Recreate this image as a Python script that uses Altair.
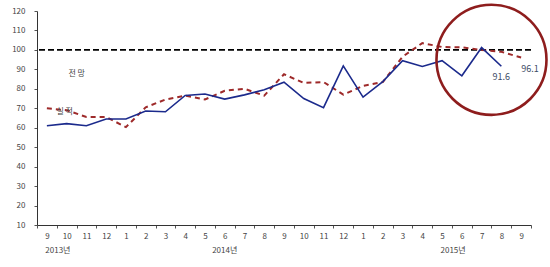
import altair as alt
import pandas as pd

# ---- data ----
months = ["9", "10", "11", "12", "1", "2", "3", "4", "5", "6", "7", "8",
          "9", "10", "11", "12", "1", "2", "3", "4", "5", "6", "7", "8", "9"]
years = [2013] * 4 + [2014] * 12 + [2015] * 9
cats = [f"{y}-{int(m):02d}" for y, m in zip(years, months)]

actual = [61.0, 62.1, 61.0, 64.5, 64.5, 68.6, 68.2, 76.6, 77.3, 74.7, 76.9, 79.5,
          83.4, 75.0, 70.3, 91.8, 75.7, 83.7, 94.5, 91.5, 94.5, 86.7, 101.2, 91.6, None]
forecast = [70.0, 69.0, 65.5, 65.5, 60.3, 70.5, 74.5, 76.5, 74.5, 79.0, 80.0, 76.5,
            87.5, 83.0, 83.5, 77.0, 81.5, 83.5, 96.5, 103.5, 101.5, 101.3, 100.0, 99.0, 96.1]

ref_level = [100]
year_ticks = ["2013-09", "2014-06", "2015-05"]
year_names = ["2013년", "2014년", "2015년"]

ann_cats = ["2015-08", "2015-09"]
ann_vals = [91.6, 96.1]

series_label_cats = ["2013-10", "2013-10"]
series_label_vals = [87.7, 68.2]
series_label_text = ["전 망", "실 적"]

circle_cat = ["2015-07"]
circle_val = [94.9]

# ---- styling ----
FONT = "Noto Sans CJK KR"
TXT = "#444444"
NAVY = "#1b2a8c"
RED = "#9e2a2a"

df = pd.DataFrame({"cat": cats, "actual": actual, "forecast": forecast})

xscale = alt.Scale(type="band", domain=cats, paddingInner=0, paddingOuter=0)
yscale = alt.Scale(domain=[10, 120], nice=False, zero=False)

month_axis = alt.Axis(
    title=None,
    labelExpr="isValid(datum.value) ? '' + toNumber(split(datum.value, '-')[1]) : ''",
    tickBand="extent", tickSize=3, labelPadding=4, labelAngle=0,
    labelOverlap=False, labelFont=FONT, labelFontSize=8, labelColor=TXT,
    domainColor="#333333", tickColor="#555555", grid=False, orient="bottom",
)

year_expr = "".join(
    f"datum.value == '{c}' ? '{n}' : " for c, n in zip(year_ticks, year_names)
) + "''"
year_axis = alt.Axis(
    title=None, orient="bottom", offset=18,
    labelExpr=year_expr,
    ticks=False, tickSize=0, domain=False, labelPadding=3, labelAngle=0,
    labelOverlap=False, labelFont=FONT, labelFontSize=8, labelColor=TXT, grid=False,
    labelOffset={"condition": {"test": "datum.value == '2014-06'", "value": 0}, "value": 11},
)

y_axis = alt.Axis(
    title=None, values=list(range(10, 121, 10)), grid=False, tickSize=3,
    labelPadding=9, labelFont=FONT, labelFontSize=8, labelColor=TXT,
    domainColor="#333333", tickColor="#555555",
)


def X(ax=month_axis):
    return alt.X("cat:N", sort=cats, scale=xscale, axis=ax)


def Y(field):
    return alt.Y(field, scale=yscale, axis=y_axis)


rule = alt.Chart(pd.DataFrame({"ref": ref_level})).mark_rule(
    color="black", strokeDash=[6, 3], strokeWidth=1.6
).encode(y=Y("ref:Q"))

fc = alt.Chart(df).mark_line(color=RED, strokeDash=[5, 4], strokeWidth=2).encode(
    x=X(), y=Y("forecast:Q")
)

ac = alt.Chart(df).mark_line(color=NAVY, strokeWidth=1.6).encode(
    x=X(), y=Y("actual:Q")
)

year_layer = alt.Chart(df).mark_point(opacity=0).encode(
    x=X(year_axis), y=Y("forecast:Q")
)

ann_df = pd.DataFrame({"cat": ann_cats, "v": ann_vals})
ann1 = alt.Chart(ann_df.iloc[[0]]).mark_text(
    font=FONT, fontSize=9, color="#3d4b66", dy=11
).encode(x=X(), y=Y("v:Q"), text=alt.Text("v:Q", format=".1f"))
ann2 = alt.Chart(ann_df.iloc[[1]]).mark_text(
    font=FONT, fontSize=9, color="#3d4b66", dx=9, dy=12
).encode(x=X(), y=Y("v:Q"), text=alt.Text("v:Q", format=".1f"))

sl_df = pd.DataFrame({"cat": series_label_cats, "v": series_label_vals, "t": series_label_text})
sl1 = alt.Chart(sl_df.iloc[[0]]).mark_text(font=FONT, fontSize=8, color=TXT, dx=10).encode(
    x=X(), y=Y("v:Q"), text="t:N"
)
sl2 = alt.Chart(sl_df.iloc[[1]]).mark_text(font=FONT, fontSize=8, color=TXT, dx=-2).encode(
    x=X(), y=Y("v:Q"), text="t:N"
)

circ = alt.Chart(pd.DataFrame({"cat": circle_cat, "v": circle_val})).mark_point(
    shape="circle", size=12100, filled=False, color="#8e1d1d", strokeWidth=2.6,
    opacity=1
).encode(
    x=alt.X("cat:N", sort=cats, scale=xscale, axis=month_axis, bandPosition=1),
    y=Y("v:Q"),
)

main = alt.layer(rule, fc, ac, ann1, ann2, sl1, sl2, circ)

chart = alt.layer(main, year_layer).resolve_axis(
    x="independent"
).properties(
    width=494, height=214,
    autosize=alt.AutoSizeParams(type="none"),
    padding={"left": 37, "top": 11, "right": 19, "bottom": 42},
    background="white",
).configure_view(stroke=None)

chart.save("out.html", embed_options={"renderer": "svg", "actions": False})
